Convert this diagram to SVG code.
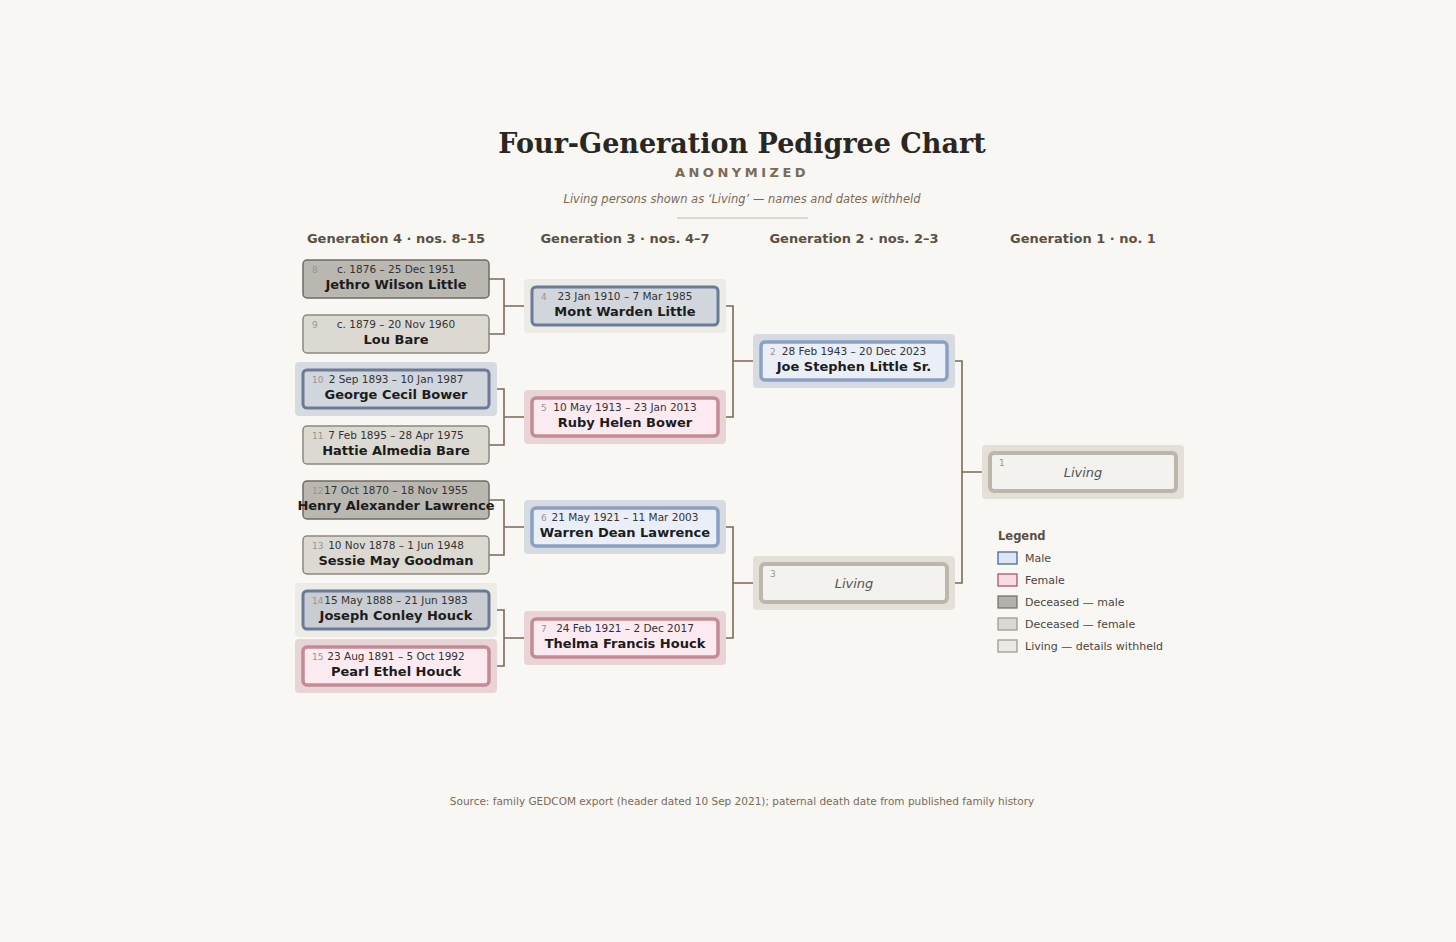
<svg xmlns="http://www.w3.org/2000/svg" width="1456" height="942" viewBox="0 0 1456 942">
<style>
text{font-family:"DejaVu Sans",sans-serif}
.t{font-family:"DejaVu Serif",serif;font-weight:bold;font-size:27px;fill:#2a2723}
.gh{font-size:13px;font-weight:bold;fill:#5a5043}
.d{font-size:10.5px;fill:#333}
.n{font-size:13px;font-weight:bold;fill:#1c1c1c}
.no{font-size:9px;fill:#9a958d}
.dm{fill:#b9b7b0;stroke:#6f6c66;stroke-width:1.5}
.df{fill:#dcd9d3;stroke:#8d877e;stroke-width:1.5}
.mg{fill:#d1d6dd;stroke:#6a7b96;stroke-width:3}
.ml{fill:#e9eef7;stroke:#8aa0c4;stroke-width:3.5}
.f{fill:#fbeaef;stroke:#c48a98;stroke-width:3.5}
.lv{fill:#f3f2ee;stroke:#bcb7ab;stroke-width:4}
.hb{fill:#d6dbe2}.hp{fill:#e8d4d4}.hg{fill:#ecebe6}.hl{fill:#e4e0d8}
.c{fill:none;stroke:#7b6a55;stroke-width:1.6}
.lg{font-size:11px;fill:#4a4540}
</style>
<rect width="1456" height="942" fill="#f9f7f3"/>
<text class="t" x="742" y="153" text-anchor="middle">Four-Generation Pedigree Chart</text>
<text x="742" y="177" text-anchor="middle" font-size="13" font-weight="bold" fill="#7a6a56" letter-spacing="3.5">ANONYMIZED</text>
<text x="742" y="203" text-anchor="middle" font-size="11.5" font-style="italic" fill="#7a6a56">Living persons shown as ‘Living’ — names and dates withheld</text>
<line x1="677" y1="218" x2="808" y2="218" stroke="#c3b9aa" stroke-width="1"/>
<text class="gh" x="396" y="243" text-anchor="middle">Generation 4 · nos. 8–15</text>
<text class="gh" x="625" y="243" text-anchor="middle">Generation 3 · nos. 4–7</text>
<text class="gh" x="854" y="243" text-anchor="middle">Generation 2 · nos. 2–3</text>
<text class="gh" x="1083" y="243" text-anchor="middle">Generation 1 · no. 1</text>

<g id="connectors">
<path class="c" d="M489 279H504V334H489M504 306H532"/>
<path class="c" d="M489 389H504V445H489M504 417H532"/>
<path class="c" d="M489 500H504V555H489M504 527H532"/>
<path class="c" d="M489 610H504V666H489M504 638H532"/>
<path class="c" d="M718 306H733V417H718M733 361H761"/>
<path class="c" d="M718 527H733V638H718M733 583H761"/>
<path class="c" d="M947 361H962V583H947M962 472H990"/>
</g>

<g id="p8"><rect class="dm" x="303" y="260" width="186" height="38" rx="4"/><text class="no" x="312" y="273">8</text><text class="d" x="396" y="273" text-anchor="middle">c. 1876 – 25 Dec 1951</text><text class="n" x="396" y="289" text-anchor="middle">Jethro Wilson Little</text></g>
<g id="p9"><rect class="df" x="303" y="315" width="186" height="38" rx="4"/><text class="no" x="312" y="328">9</text><text class="d" x="396" y="328" text-anchor="middle">c. 1879 – 20 Nov 1960</text><text class="n" x="396" y="344" text-anchor="middle">Lou Bare</text></g>
<g id="p10"><rect class="hb" x="295" y="362" width="202" height="54" rx="4"/><rect class="mg" x="303" y="370" width="186" height="38" rx="4" fill="#d8dfe8"/><text class="no" x="312" y="383">10</text><text class="d" x="396" y="383" text-anchor="middle">2 Sep 1893 – 10 Jan 1987</text><text class="n" x="396" y="399" text-anchor="middle">George Cecil Bower</text></g>
<g id="p11"><rect class="df" x="303" y="426" width="186" height="38" rx="4"/><text class="no" x="312" y="439">11</text><text class="d" x="396" y="439" text-anchor="middle">7 Feb 1895 – 28 Apr 1975</text><text class="n" x="396" y="455" text-anchor="middle">Hattie Almedia Bare</text></g>
<g id="p12"><rect class="dm" x="303" y="481" width="186" height="38" rx="4"/><text class="no" x="312" y="494">12</text><text class="d" x="396" y="494" text-anchor="middle">17 Oct 1870 – 18 Nov 1955</text><text class="n" x="396" y="510" text-anchor="middle">Henry Alexander Lawrence</text></g>
<g id="p13"><rect class="df" x="303" y="536" width="186" height="38" rx="4"/><text class="no" x="312" y="549">13</text><text class="d" x="396" y="549" text-anchor="middle">10 Nov 1878 – 1 Jun 1948</text><text class="n" x="396" y="565" text-anchor="middle">Sessie May Goodman</text></g>
<g id="p14"><rect class="hg" x="295" y="583" width="202" height="54" rx="4"/><rect class="mg" x="303" y="591" width="186" height="38" rx="4" style="fill:#c9cdd2"/><text class="no" x="312" y="604">14</text><text class="d" x="396" y="604" text-anchor="middle">15 May 1888 – 21 Jun 1983</text><text class="n" x="396" y="620" text-anchor="middle">Joseph Conley Houck</text></g>
<g id="p15"><rect class="hp" x="295" y="639" width="202" height="54" rx="4"/><rect class="f" x="303" y="647" width="186" height="38" rx="4"/><text class="no" x="312" y="660">15</text><text class="d" x="396" y="660" text-anchor="middle">23 Aug 1891 – 5 Oct 1992</text><text class="n" x="396" y="676" text-anchor="middle">Pearl Ethel Houck</text></g>

<g id="p4"><rect class="hg" x="524" y="279" width="202" height="54" rx="4"/><rect class="mg" x="532" y="287" width="186" height="38" rx="4"/><text class="no" x="541" y="300">4</text><text class="d" x="625" y="300" text-anchor="middle">23 Jan 1910 – 7 Mar 1985</text><text class="n" x="625" y="316" text-anchor="middle">Mont Warden Little</text></g>
<g id="p5"><rect class="hp" x="524" y="390" width="202" height="54" rx="4"/><rect class="f" x="532" y="398" width="186" height="38" rx="4"/><text class="no" x="541" y="411">5</text><text class="d" x="625" y="411" text-anchor="middle">10 May 1913 – 23 Jan 2013</text><text class="n" x="625" y="427" text-anchor="middle">Ruby Helen Bower</text></g>
<g id="p6"><rect class="hb" x="524" y="500" width="202" height="54" rx="4"/><rect class="ml" x="532" y="508" width="186" height="38" rx="4"/><text class="no" x="541" y="521">6</text><text class="d" x="625" y="521" text-anchor="middle">21 May 1921 – 11 Mar 2003</text><text class="n" x="625" y="537" text-anchor="middle">Warren Dean Lawrence</text></g>
<g id="p7"><rect class="hp" x="524" y="611" width="202" height="54" rx="4"/><rect class="f" x="532" y="619" width="186" height="38" rx="4"/><text class="no" x="541" y="632">7</text><text class="d" x="625" y="632" text-anchor="middle">24 Feb 1921 – 2 Dec 2017</text><text class="n" x="625" y="648" text-anchor="middle">Thelma Francis Houck</text></g>

<g id="p2"><rect class="hb" x="753" y="334" width="202" height="54" rx="4"/><rect class="ml" x="761" y="342" width="186" height="38" rx="4"/><text class="no" x="770" y="355">2</text><text class="d" x="854" y="355" text-anchor="middle">28 Feb 1943 – 20 Dec 2023</text><text class="n" x="854" y="371" text-anchor="middle">Joe Stephen Little Sr.</text></g>
<g id="p3"><rect class="hl" x="753" y="556" width="202" height="54" rx="4"/><rect class="lv" x="761" y="564" width="186" height="38" rx="4"/><text class="no" x="770" y="577">3</text><text x="854" y="588" text-anchor="middle" font-size="13" font-style="italic" fill="#555">Living</text></g>
<g id="p1"><rect class="hl" x="982" y="445" width="202" height="54" rx="4"/><rect class="lv" x="990" y="453" width="186" height="38" rx="4"/><text class="no" x="999" y="466">1</text><text x="1083" y="477" text-anchor="middle" font-size="13" font-style="italic" fill="#555">Living</text></g>

<g id="legend">
<text x="998" y="540" font-size="11.5" font-weight="bold" fill="#5a5043">Legend</text>
<rect x="998" y="552" width="19" height="12" fill="#dbe5f3" stroke="#3f5a86" stroke-width="1.2"/><text class="lg" x="1025" y="562">Male</text>
<rect x="998" y="574" width="19" height="12" fill="#f6dde4" stroke="#a04a60" stroke-width="1.2"/><text class="lg" x="1025" y="584">Female</text>
<rect x="998" y="596" width="19" height="12" fill="#b3b1ab" stroke="#6f6c66" stroke-width="1.2"/><text class="lg" x="1025" y="606">Deceased — male</text>
<rect x="998" y="618" width="19" height="12" fill="#dcd9d3" stroke="#9a958d" stroke-width="1.2"/><text class="lg" x="1025" y="628">Deceased — female</text>
<rect x="998" y="640" width="19" height="12" fill="#ece9e3" stroke="#9a958d" stroke-width="1.2"/><text class="lg" x="1025" y="650">Living — details withheld</text>
</g>
<text x="742" y="805" text-anchor="middle" font-size="10.5" fill="#7a6a56">Source: family GEDCOM export (header dated 10 Sep 2021); paternal death date from published family history</text>
</svg>
